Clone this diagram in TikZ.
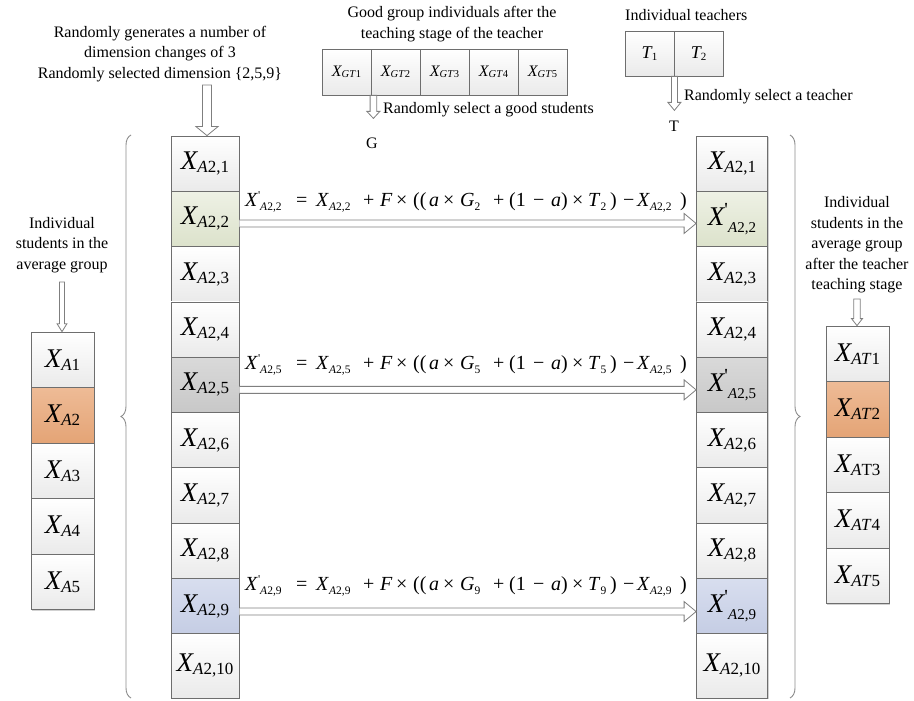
\documentclass[tikz,border=0pt]{standalone}
\usepackage{fontspec}
\setmainfont{Liberation Serif}
\usetikzlibrary{calc,decorations.pathreplacing,shadows}
\definecolor{bordc}{HTML}{6E6E6E}
\definecolor{plainbot}{HTML}{EAEAEA}
\definecolor{greentop}{HTML}{EEF1E5}
\definecolor{greenbot}{HTML}{DCE2CB}
\definecolor{graytop}{HTML}{D9D9D9}
\definecolor{graybot}{HTML}{C8C8C8}
\definecolor{bluetop}{HTML}{D8DEEF}
\definecolor{bluebot}{HTML}{C5CDE4}
\definecolor{orangetop}{HTML}{EEBB96}
\definecolor{orangebot}{HTML}{E4A476}
\definecolor{arrowc}{HTML}{7F7F7F}
\definecolor{bracec}{HTML}{8A8A8A}
% cell contents
\newcommand\cellX[1]{{\fontsize{27}{27}\selectfont\itshape X}\raisebox{-3pt}{\fontsize{17}{17}\selectfont #1}}
\newcommand\cellXp[1]{{\fontsize{27}{27}\selectfont\itshape X}\raisebox{9pt}{\fontsize{20}{20}\selectfont\textquotesingle}\raisebox{-7pt}{\fontsize{15}{15}\selectfont #1}}
\newcommand\smX[1]{{\fontsize{16}{16}\selectfont\itshape X}\raisebox{-1.5pt}{\fontsize{10.5}{10.5}\selectfont #1}}
\newcommand\smT[1]{{\fontsize{18}{18}\selectfont\itshape T}\raisebox{-1.5pt}{\fontsize{11}{11}\selectfont #1}}
% equation pieces
\newcommand\eqfont{\fontsize{20}{20}\selectfont}
\newcommand\es[1]{\raisebox{-4pt}{\fontsize{11.5}{11.5}\selectfont #1}}
\newcommand\eXs[1]{\textit{X}\es{\textit{A}2,#1}}
\newcommand\eXp[1]{\textit{X}\raisebox{7pt}{\fontsize{12}{12}\selectfont\textquotesingle}\es{\textit{A}2,#1}}
\newcommand\eqrow[2]{%
  \foreach \xx/\tk [count=\k] in {245/{\eXp{#1}}, 296/{=}, 316/{\eXs{#1}}, 363/{+}, 380/{\textit{F}}, 396/{×}, 413/{((}, 429/{\textit{a}}, 443/{×}, 460/{\textit{G}\es{#1}}, 493/{+}, 509/{(1}, 533/{−}, 551/{\textit{a})}, 572/{×}, 588/{\textit{T}\es{#1}}, 610/{)}, 623/{−}, 637/{\eXs{#1}}, 680/{)}}
  {\node[eqtok] (e#1n\k) at (\xx,#2) {\tk};}%
}
% hollow arrows
\newcommand\harr[2]{%
  \draw[hollowarrow] ($(#1)+(0,-3.5)$) -- ($(#2)+(-12,-3.5)$) -- ($(#2)+(-12,-10)$) -- (#2)
    -- ($(#2)+(-12,10)$) -- ($(#2)+(-12,3.5)$) -- ($(#1)+(0,3.5)$);}
\newcommand\varr[5]{%
  \draw[hollowarrow] ($(#1)+(-#3,0)$) -- ($(#2)+(-#3,-#5)$) -- ($(#2)+(-#4,-#5)$) -- (#2)
    -- ($(#2)+(#4,-#5)$) -- ($(#2)+(#3,-#5)$) -- ($(#1)+(#3,0)$) -- cycle;}
\begin{document}
\begin{tikzpicture}[x=1pt,y=-1pt,
  cellbase/.style={draw=bordc, line width=0.8pt, inner sep=0pt,
     drop shadow={shadow xshift=1.2pt, shadow yshift=-1.2pt, fill=black, opacity=0.18}},
  plain/.style={cellbase, top color=white, bottom color=plainbot},
  greencell/.style={cellbase, top color=greentop, bottom color=greenbot},
  graycell/.style={cellbase, top color=graytop, bottom color=graybot},
  bluecell/.style={cellbase, top color=bluetop, bottom color=bluebot},
  orangecell/.style={cellbase, top color=orangetop, bottom color=orangebot},
  tall/.style={minimum width=68pt, minimum height=55.3pt},
  tallR/.style={minimum width=71pt, minimum height=55.3pt},
  small/.style={minimum width=63pt, minimum height=55.5pt},
  topbox/.style={minimum width=49pt, minimum height=46pt},
  txt/.style={inner sep=0pt, font=\fontsize{16}{20.5}\selectfont},
  eqtok/.style={anchor=base west, inner sep=0pt, font=\eqfont},
  hollowarrow/.style={draw=arrowc, line width=0.8pt, fill=white, line join=miter},
  bracestyle/.style={draw=bracec, line width=0.9pt, decorate, decoration={brace, amplitude=10pt}}
]
\useasboundingbox (0,0) rectangle (914,701);

% ---------- top texts ----------
\node[txt, align=center] (dimtxt) at (160,54) {Randomly generates a number of\\dimension changes of 3\\Randomly selected dimension \{2,5,9\}};
\node[txt, align=center] (goodtxt) at (452,24) {Good group individuals after the\\teaching stage of the teacher};
\node[txt, anchor=west] (teachtxt) at (625,15) {Individual teachers};

% ---------- good group boxes ----------
\node[plain, topbox] (G1) at (346.5,72) {\smX{\textit{GT}1}};
\node[plain, topbox] (G2) at (395.5,72) {\smX{\textit{GT}2}};
\node[plain, topbox] (G3) at (444.5,72) {\smX{\textit{GT}3}};
\node[plain, topbox] (G4) at (493.5,72) {\smX{\textit{GT}4}};
\node[plain, topbox] (G5) at (542.5,72) {\smX{\textit{GT}5}};

% ---------- teacher boxes ----------
\node[plain, minimum width=49pt, minimum height=45pt] (T1) at (649.5,53.5) {\smT{1}};
\node[plain, minimum width=49pt, minimum height=45pt] (T2) at (698.5,53.5) {\smT{2}};

\node[txt, anchor=west] (selg) at (383,110) {Randomly select a good students};
\node[txt] (Glab) at (372,143) {G};
\node[txt, anchor=west] (selt) at (684,97) {Randomly select a teacher};
\node[txt] (Tlab) at (674,126) {T};

% ---------- left tall column ----------
\node[plain, tall]     (L1)  at (205,163.65) {\cellX{\textit{A}2,1}};
\node[greencell, tall] (L2)  at (205,218.95) {\cellX{\textit{A}2,2}};
\node[plain, tall]     (L3)  at (205,274.25) {\cellX{\textit{A}2,3}};
\node[plain, tall]     (L4)  at (205,329.55) {\cellX{\textit{A}2,4}};
\node[graycell, tall]  (L5)  at (205,384.85) {\cellX{\textit{A}2,5}};
\node[plain, tall]     (L6)  at (205,440.15) {\cellX{\textit{A}2,6}};
\node[plain, tall]     (L7)  at (205,495.45) {\cellX{\textit{A}2,7}};
\node[plain, tall]     (L8)  at (205,550.75) {\cellX{\textit{A}2,8}};
\node[bluecell, tall]  (L9)  at (205,606.05) {\cellX{\textit{A}2,9}};
\node[plain, tall, minimum height=64.3pt] (L10) at (205,665.85) {\cellX{\textit{A}2,10}};

% ---------- right tall column ----------
\node[plain, tallR]     (R1)  at (732,163.65) {\cellX{\textit{A}2,1}};
\node[greencell, tallR] (R2)  at (732,218.95) {\cellXp{\textit{A}2,2}};
\node[plain, tallR]     (R3)  at (732,274.25) {\cellX{\textit{A}2,3}};
\node[plain, tallR]     (R4)  at (732,329.55) {\cellX{\textit{A}2,4}};
\node[graycell, tallR]  (R5)  at (732,384.85) {\cellXp{\textit{A}2,5}};
\node[plain, tallR]     (R6)  at (732,440.15) {\cellX{\textit{A}2,6}};
\node[plain, tallR]     (R7)  at (732,495.45) {\cellX{\textit{A}2,7}};
\node[plain, tallR]     (R8)  at (732,550.75) {\cellX{\textit{A}2,8}};
\node[bluecell, tallR]  (R9)  at (732,606.05) {\cellXp{\textit{A}2,9}};
\node[plain, tallR, minimum height=64.3pt] (R10) at (732,665.85) {\cellX{\textit{A}2,10}};

% ---------- left small column ----------
\node[txt, align=center] (avgtxt) at (62,245) {Individual\\students in the\\average group};
\node[plain, small]      (A1) at (62.5,359.8) {\cellX{\textit{A}1}};
\node[orangecell, small] (A2) at (62.5,415.3) {\cellX{\textit{A}2}};
\node[plain, small]      (A3) at (62.5,470.8) {\cellX{\textit{A}3}};
\node[plain, small]      (A4) at (62.5,526.3) {\cellX{\textit{A}4}};
\node[plain, small]      (A5) at (62.5,581.8) {\cellX{\textit{A}5}};

% ---------- right small column ----------
\node[txt, align=center] (aftertxt) at (857,245) {Individual\\students in the\\average group\\after the teacher\\teaching stage};
\node[plain, small]      (B1) at (857.5,353.75) {\cellX{\textit{AT}1}};
\node[orangecell, small] (B2) at (857.5,409.25) {\cellX{\textit{AT}2}};
\node[plain, small]      (B3) at (857.5,464.75) {\cellX{\textit{A}T3}};
\node[plain, small]      (B4) at (857.5,520.25) {\cellX{\textit{AT}4}};
\node[plain, small]      (B5) at (857.5,575.75) {\cellX{\textit{AT}5}};

% ---------- braces ----------
\draw[bracestyle] (131,698) -- (131,135);
\draw[bracestyle] (790,135) -- (790,698);

% ---------- vertical hollow arrows ----------
\coordinate (v1s) at (207,85);
\coordinate (v1t) at (v1s |- L1.north);
\varr{v1s}{v1t}{4.5}{11}{9}
\coordinate (vgs) at ($(G1.south east)+(2,0)$);
\coordinate (vgt) at ($(vgs)+(0,23)$);
\varr{vgs}{vgt}{3.3}{6.5}{7}
\coordinate (vts) at (T1.south east);
\coordinate (vtt) at ($(vts)+(0,34)$);
\varr{vts}{vtt}{3}{6.5}{8}
\coordinate (vas) at (62,282);
\coordinate (vat) at (vas |- A1.north);
\varr{vas}{vat}{2.5}{5}{8}
\coordinate (vbs) at (857,299);
\coordinate (vbt) at (vbs |- B1.north);
\varr{vbs}{vbt}{3.3}{5.5}{7}

% ---------- horizontal hollow arrows ----------
\coordinate (h2s) at ($(L2.east)+(0,4.5)$);
\coordinate (h2t) at ($(R2.west)+(0,4.5)$);
\harr{h2s}{h2t}
\coordinate (h5s) at ($(L5.east)+(0,5)$);
\coordinate (h5t) at ($(R5.west)+(0,5)$);
\harr{h5s}{h5t}
\coordinate (h9s) at ($(L9.east)+(0,5.5)$);
\coordinate (h9t) at ($(R9.west)+(0,5.5)$);
\harr{h9s}{h9t}

% ---------- equations ----------
\eqrow{2}{206}
\eqrow{5}{369}
\eqrow{9}{590}
\end{tikzpicture}
\end{document}
